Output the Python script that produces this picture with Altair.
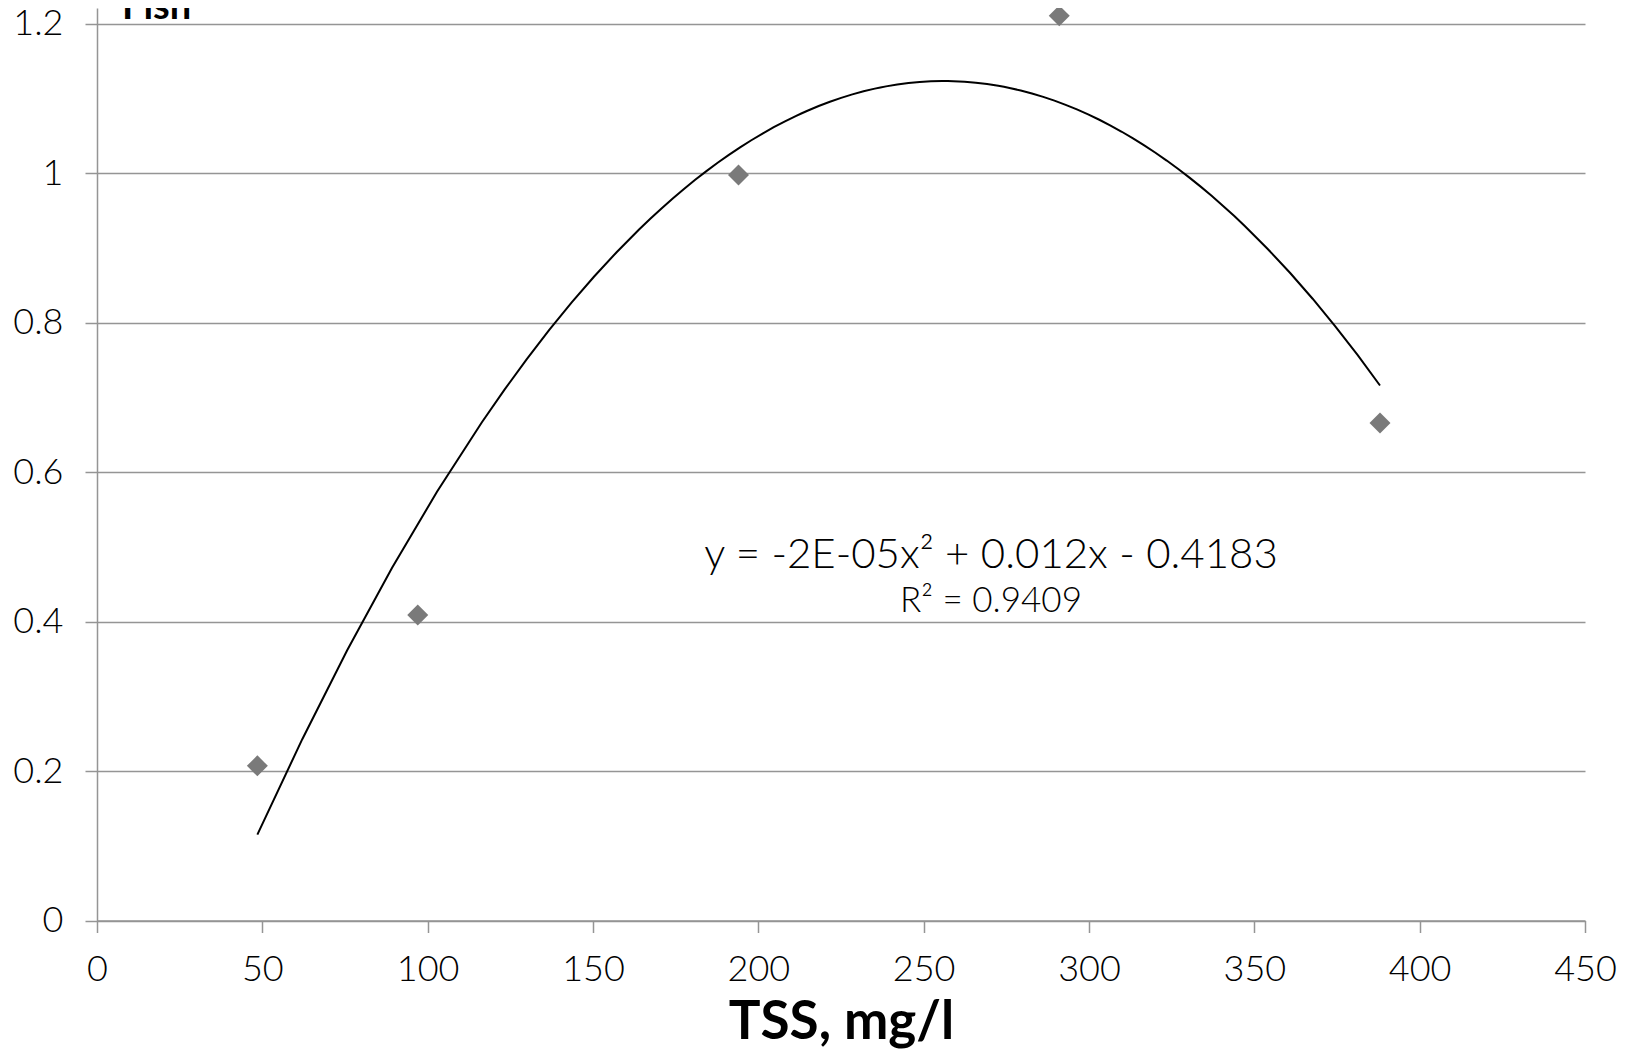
import altair as alt
import pandas as pd

# ---- data ----
tss = [48.5, 97, 194, 291, 388]
fish = [0.207, 0.409, 0.998, 1.211, 0.666]
x_ticks = [0, 50, 100, 150, 200, 250, 300, 350, 400, 450]
y_ticks = [0, 0.2, 0.4, 0.6, 0.8, 1.0, 1.2]
equation = ["y = -2E-05x² + 0.012x - 0.4183"]
r_squared = ["R² = 0.9409"]
panel_label = ["Fish"]
x_title = "TSS, mg/l"

df = pd.DataFrame({"tss": tss, "fish": fish})

W, H = 1488, 912.5
FONT = "Lato"
GRID = "#959595"

x_enc = alt.X(
    "tss:Q",
    scale=alt.Scale(domain=[0, 450], nice=False, zero=False),
    axis=alt.Axis(values=x_ticks, title=x_title, grid=False, labelFlush=False),
)
y_enc = alt.Y(
    "fish:Q",
    scale=alt.Scale(domain=[0, 1.2214], nice=False, zero=False),
    axis=alt.Axis(values=y_ticks, format=".1~f", title=None, grid=True, labelFlush=False),
)

trend = (
    alt.Chart(df)
    .transform_regression("tss", "fish", method="poly", order=2)
    .mark_line(color="black", strokeWidth=2)
    .encode(x=x_enc, y=y_enc)
)

points = (
    alt.Chart(df)
    .mark_point(shape="diamond", filled=True, size=440, color="#7a7a7a", opacity=1)
    .encode(x=x_enc, y=y_enc)
)

eq_text = (
    alt.Chart(pd.DataFrame({"t": equation}))
    .mark_text(font=FONT, fontSize=42, fontWeight=300, color="black",
               align="center", baseline="alphabetic")
    .encode(text="t:N", x=alt.value(894), y=alt.value(559.6))
)
r2_text = (
    alt.Chart(pd.DataFrame({"t": r_squared}))
    .mark_text(font=FONT, fontSize=35, fontWeight=300, color="black",
               align="center", baseline="alphabetic")
    .encode(text="t:N", x=alt.value(894), y=alt.value(604))
)
label_text = (
    alt.Chart(pd.DataFrame({"t": panel_label}))
    .mark_text(font=FONT, fontSize=38, fontWeight="bold", color="black",
               align="left", baseline="alphabetic")
    .encode(text="t:N", x=alt.value(25), y=alt.value(11))
)

chart = (
    alt.layer(trend, points, eq_text, r2_text, label_text)
    .properties(
        width=W,
        height=H,
        autosize=alt.AutoSizeParams(type="none"),
        padding={"left": 89, "top": 0, "right": 37, "bottom": 129.5},
    )
    .configure_view(stroke=None)
    .configure_axis(
        domainColor=GRID,
        domainWidth=1.5,
        tickColor=GRID,
        tickWidth=1.5,
        tickSize=12,
        gridColor=GRID,
        gridWidth=1.5,
        gridOpacity=1,
        labelFont=FONT,
        labelFontSize=36,
        labelFontWeight=300,
        labelColor="black",
    )
    .configure_axisY(labelPadding=22)
    .configure_axisX(
        labelPadding=20,
        titleFont=FONT,
        titleFontSize=53,
        titleFontWeight="bold",
        titleColor="black",
        titleBaseline="alphabetic",
        titleY=117.5,
    )
)

chart.save("out.html", embed_options={"renderer": "svg", "actions": False})
